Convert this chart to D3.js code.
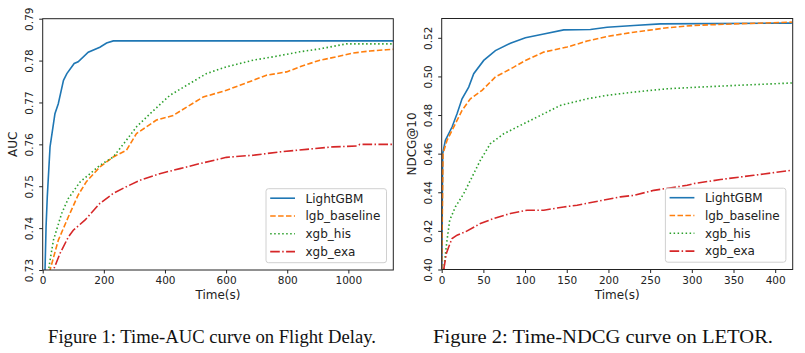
<!DOCTYPE html>
<html>
<head>
<meta charset="utf-8">
<script src="https://cdn.jsdelivr.net/npm/d3@7"></script>
<style>
  body { margin: 0; background: #fff; }
  svg { display: block; }
  .axis text { font-family: "DejaVu Sans", sans-serif; font-size: 10.5px; fill: #222; }
  .axis path, .axis line { stroke: #222; }
  .lbl { font-family: "DejaVu Sans", sans-serif; font-size: 12px; fill: #222; }
  .leg text { font-family: "DejaVu Sans", sans-serif; font-size: 12px; fill: #222; }
  .cap { font-family: "Liberation Serif", "Times New Roman", serif; font-size: 18.5px; fill: #111; }
</style>
</head>
<body>
<svg id="fig" width="805" height="353"></svg>
<script>
// ************************************
// Data
// ************************************

const seriesNames = ["LightGBM", "lgb_baseline", "xgb_his", "xgb_exa"];
const colors = ["#1f77b4", "#ff7f0e", "#2ca02c", "#d62728"];
const dashes = [null, "5.5,2.4", "1.5,2.5", "9.6,2.4,1.5,2.4"];

// Figure 1: Time(s) vs AUC on Flight Delay
const aucLightGBM = [[0,0.70],[7.6,0.73],[11,0.7403],[15,0.7475],[24,0.7594],[40,0.7673],[51,0.7697],[68,0.7753],[79,0.7769],[103,0.7793],[116,0.7797],[149,0.7820],[187,0.7832],[209,0.7842],[231,0.7847],[1150,0.7847]];
const aucBaseline = [[15,0.72],[24,0.73],[51,0.7371],[84,0.7427],[116,0.7479],[143,0.7511],[187,0.7546],[231,0.7570],[274,0.7586],[307,0.7626],[340,0.7642],[372,0.7658],[427,0.7669],[471,0.7689],[525,0.7713],[601,0.7729],[645,0.7741],[689,0.7753],[732,0.7765],[798,0.7773],[841,0.7785],[907,0.7801],[962,0.7809],[1016,0.7818],[1071,0.7823],[1125,0.7826],[1150,0.7827]];
const aucHis = [[10,0.72],[19,0.73],[35,0.7371],[62,0.7435],[84,0.7471],[122,0.7510],[155,0.7530],[187,0.7550],[231,0.7570],[274,0.7610],[307,0.7642],[351,0.7673],[416,0.7717],[471,0.7741],[536,0.7769],[601,0.7785],[689,0.7801],[754,0.7809],[841,0.7821],[907,0.7828],[994,0.7840],[1150,0.7840]];
const aucExa = [[25,0.72],[35,0.73],[57,0.7340],[84,0.7379],[100,0.7395],[138,0.7419],[187,0.7459],[231,0.7483],[274,0.7499],[318,0.7514],[383,0.7530],[449,0.7542],[514,0.7554],[601,0.7569],[689,0.7574],[776,0.7582],[863,0.7588],[950,0.7594],[1027,0.7596],[1038,0.7600],[1150,0.7600]];

// Figure 2: Time(s) vs NDCG@10 on LETOR
const ndcgLightGBM = [[0,0.40],[1.2,0.46],[4.4,0.4669],[12.4,0.4738],[18.4,0.4807],[24.4,0.4884],[32.4,0.4945],[38.4,0.5014],[50.4,0.5083],[64.4,0.5134],[82.4,0.5172],[100.4,0.5200],[122.4,0.5220],[146.4,0.5241],[178.4,0.5243],[198.4,0.5255],[230.4,0.5264],[262.4,0.5272],[420,0.5276]];
const ndcgBaseline = [[0,0.40],[1.6,0.46],[6.4,0.4669],[16.4,0.4755],[24.4,0.4824],[34.4,0.4884],[48.4,0.4928],[64.4,0.4997],[86.4,0.5048],[100.4,0.5083],[122.4,0.5126],[150.4,0.5152],[174.4,0.5183],[198.4,0.5207],[230.4,0.5229],[270.4,0.5252],[302.4,0.5264],[350.4,0.5272],[420,0.5281]];
const ndcgHis = [[2.4,0.40],[6.4,0.4152],[9.6,0.4255],[16.4,0.4324],[26.4,0.4393],[36.4,0.4479],[46.4,0.4566],[58.4,0.4652],[74.4,0.4703],[98.4,0.4755],[118.4,0.4798],[142.4,0.4850],[174.4,0.4884],[198.4,0.4902],[230.4,0.4919],[270.4,0.4936],[310.4,0.4945],[350.4,0.4953],[420,0.4966]];
const ndcgExa = [[2.4,0.40],[5.6,0.4083],[8.4,0.4117],[12.4,0.4160],[18.4,0.4178],[28.4,0.4195],[46.4,0.4238],[62.4,0.4264],[82.4,0.4290],[102.4,0.4307],[122.4,0.4307],[146.4,0.4324],[162.4,0.4333],[182.4,0.4350],[214.4,0.4376],[230.4,0.4384],[254.4,0.4410],[294.4,0.4436],[302.4,0.4445],[334.4,0.4466],[374.4,0.4488],[420,0.4514]];

const aucTicksX = [0, 200, 400, 600, 800, 1000];
const aucTicksY = [0.73, 0.74, 0.75, 0.76, 0.77, 0.78, 0.79];
const ndcgTicksX = [0, 50, 100, 150, 200, 250, 300, 350, 400];
const ndcgTicksY = [0.40, 0.42, 0.44, 0.46, 0.48, 0.50, 0.52];

const svg = d3.select("#fig");

function drawPanel(p) {
    const x = d3.scaleLinear().domain(p.xDomain).range([p.left, p.right]);
    const y = d3.scaleLinear().domain(p.yDomain).range([p.bottom, p.top]);
    const g = svg.append("g");

    g.append("clipPath").attr("id", p.id + "clip")
        .append("rect")
        .attr("x", p.left).attr("y", p.top)
        .attr("width", p.right - p.left).attr("height", p.bottom - p.top);

    // lines
    const line = d3.line().x(d => x(d[0])).y(d => y(d[1]));
    p.series.forEach((s, i) => {
        g.append("path")
            .datum(s)
            .attr("clip-path", `url(#${p.id}clip)`)
            .attr("d", line)
            .attr("fill", "none")
            .attr("stroke", colors[i])
            .attr("stroke-width", 1.6)
            .attr("stroke-dasharray", dashes[i]);
    });

    // axes
    const xAxis = g.append("g")
        .attr("class", "axis")
        .attr("transform", `translate(0,${p.bottom})`)
        .call(d3.axisBottom(x).tickValues(p.xTicks).tickSize(3.5).tickPadding(3.5).tickFormat(d3.format("d")));
    xAxis.select(".domain").remove();

    const yAxis = g.append("g")
        .attr("class", "axis")
        .attr("transform", `translate(${p.left},0)`)
        .call(d3.axisLeft(y).tickValues(p.yTicks).tickSize(3.5).tickFormat(d3.format(p.yFormat)));
    yAxis.select(".domain").remove();
    yAxis.selectAll("text")
        .attr("x", 0).attr("y", 0).attr("dy", 0)
        .attr("text-anchor", "middle")
        .attr("transform", "translate(-9.4,0) rotate(-90)");

    // frame
    g.append("rect")
        .attr("x", p.left).attr("y", p.top)
        .attr("width", p.right - p.left).attr("height", p.bottom - p.top)
        .attr("fill", "none").attr("stroke", "#222").attr("stroke-width", 1);

    // axis labels
    g.append("text").attr("class", "lbl")
        .attr("x", (p.left + p.right) / 2).attr("y", 299)
        .attr("text-anchor", "middle").text("Time(s)");
    g.append("text").attr("class", "lbl")
        .attr("transform", `translate(${p.yLabelX},${(p.top + p.bottom) / 2}) rotate(-90)`)
        .attr("text-anchor", "middle").text(p.yLabel);

    // legend
    const lw = 120.5, lh = 74;
    const lx = p.right - 6.8 - lw, ly = p.bottom - 7.3 - lh;
    const leg = g.append("g").attr("class", "leg");
    leg.append("rect")
        .attr("x", lx).attr("y", ly).attr("width", lw).attr("height", lh)
        .attr("rx", 2.5).attr("fill", "#fff").attr("fill-opacity", 0.85)
        .attr("stroke", "#d0d0d0").attr("stroke-width", 1);
    seriesNames.forEach((name, i) => {
        const ry = ly + 9.5 + i * 17.8;
        leg.append("line")
            .attr("x1", lx + 4.2).attr("x2", lx + 29)
            .attr("y1", ry).attr("y2", ry)
            .attr("stroke", colors[i]).attr("stroke-width", 1.6)
            .attr("stroke-dasharray", dashes[i]);
        leg.append("text")
            .attr("x", lx + 39.5).attr("y", ry + 4.3)
            .text(name);
    });

    // caption
    svg.append("text").attr("class", "cap")
        .attr("x", p.capX).attr("y", 343)
        .attr("text-anchor", "middle")
        .attr("textLength", p.capW).attr("lengthAdjust", "spacingAndGlyphs")
        .text(p.caption);
}

drawPanel({
    id: "auc",
    left: 42.7, right: 393.3, top: 18.7, bottom: 270,
    xDomain: [0, 1147], yDomain: [0.73, 0.79],
    xTicks: aucTicksX, yTicks: aucTicksY, yFormat: ".2f",
    series: [aucLightGBM, aucBaseline, aucHis, aucExa],
    yLabel: "AUC", yLabelX: 16.7,
    caption: "Figure 1: Time-AUC curve on Flight Delay.", capX: 212, capW: 328
});

drawPanel({
    id: "ndcg",
    left: 441.7, right: 792.7, top: 18.5, bottom: 269.5,
    xDomain: [0, 421], yDomain: [0.40, 0.53],
    xTicks: ndcgTicksX, yTicks: ndcgTicksY, yFormat: ".2f",
    series: [ndcgLightGBM, ndcgBaseline, ndcgHis, ndcgExa],
    yLabel: "NDCG@10", yLabelX: 416,
    caption: "Figure 2: Time-NDCG curve on LETOR.", capX: 603, capW: 340
});
</script>
</body>
</html>
